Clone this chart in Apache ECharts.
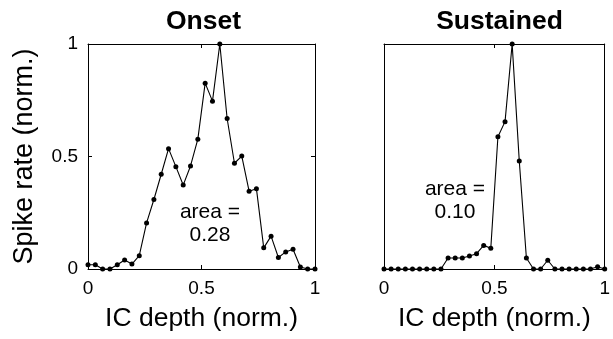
<!DOCTYPE html>
<html>
<head>
<meta charset="utf-8">
<script src="https://cdn.jsdelivr.net/npm/echarts@6/dist/echarts.min.js"></script>
<style>
  html, body { margin: 0; padding: 0; background: #fff; }
  #chart { width: 613px; height: 339px; }
</style>
</head>
<body>
<div id="chart"></div>
<script>
// Normalised spike rate per depth bin (32 evenly spaced bins across the IC)
const binCount = 32;
const onsetRate = [
  0.019, 0.019, 0.000, 0.000, 0.019, 0.040, 0.022, 0.059,
  0.205, 0.309, 0.421, 0.535, 0.455, 0.373, 0.458, 0.577,
  0.826, 0.746, 1.000, 0.669, 0.470, 0.502, 0.346, 0.357,
  0.094, 0.146, 0.051, 0.076, 0.088, 0.009, 0.000, 0.000
];
const sustainedRate = [
  0.000, 0.000, 0.000, 0.000, 0.000, 0.000, 0.000, 0.000,
  0.000, 0.049, 0.049, 0.049, 0.058, 0.068, 0.105, 0.092,
  0.588, 0.655, 1.000, 0.480, 0.049, 0.000, 0.000, 0.039,
  0.000, 0.000, 0.000, 0.000, 0.000, 0.000, 0.010, 0.000
];
const panelTitles = ['Onset', 'Sustained'];
const areaLabels = ['area =\n0.28', 'area =\n0.10'];

// bin centres along normalised depth
const depth = onsetRate.map((_, i) => i / (binCount - 1));
const toPairs = vals => vals.map((v, i) => [depth[i], v]);

const font = 'Liberation Sans, Arial, Helvetica, sans-serif';
const black = '#000';

function tickLabel(v) {
  return String(v);
}

const grids = [
  { left: 88, top: 44, width: 227, height: 225 },
  { left: 384, top: 44, width: 227, height: 225 }
];

const xAxes = [];
const yAxes = [];
grids.forEach((g, k) => {
  // bottom axis with labels
  xAxes.push({
    type: 'value', gridIndex: k, position: 'bottom', min: 0, max: 1, interval: 0.5,
    name: 'IC depth (norm.)', nameLocation: 'middle', nameGap: 36,
    nameTextStyle: { fontFamily: font, fontSize: 26.5, color: black },
    axisLine: { show: true, onZero: false, lineStyle: { color: black, width: 1 } },
    axisTick: { show: true, inside: true, length: 4, lineStyle: { color: black } },
    axisLabel: { show: true, margin: 10, fontFamily: font, fontSize: 19, color: black, formatter: tickLabel },
    splitLine: { show: false }
  });
  // top edge of the box
  xAxes.push({
    type: 'value', gridIndex: k, position: 'top', min: 0, max: 1, interval: 0.5,
    axisLine: { show: true, onZero: false, lineStyle: { color: black, width: 1 } },
    axisTick: { show: true, inside: true, length: 4, lineStyle: { color: black } },
    axisLabel: { show: false }, splitLine: { show: false }
  });
  const showY = k === 0;
  yAxes.push({
    type: 'value', gridIndex: k, position: 'left', min: 0, max: 1, interval: 0.5,
    name: showY ? 'Spike rate (norm.)' : '', nameLocation: 'middle', nameGap: 50,
    nameTextStyle: { fontFamily: font, fontSize: 27, color: black },
    axisLine: { show: true, onZero: false, lineStyle: { color: black, width: 1 } },
    axisTick: { show: showY, inside: true, length: 4, lineStyle: { color: black } },
    axisLabel: { show: showY, margin: 10, fontFamily: font, fontSize: 19, color: black, formatter: tickLabel },
    splitLine: { show: false }
  });
  // right edge of the box
  yAxes.push({
    type: 'value', gridIndex: k, position: 'right', min: 0, max: 1, interval: 0.5,
    axisLine: { show: true, onZero: false, lineStyle: { color: black, width: 1 } },
    axisTick: { show: showY, inside: true, length: 4, lineStyle: { color: black } },
    axisLabel: { show: false }, splitLine: { show: false }
  });
});

const seriesData = [onsetRate, sustainedRate];
const series = seriesData.map((vals, k) => ({
  type: 'line',
  xAxisIndex: k * 2,
  yAxisIndex: k * 2,
  data: toPairs(vals),
  symbol: 'circle',
  symbolSize: 5,
  showSymbol: true,
  lineStyle: { color: black, width: 1.1 },
  itemStyle: { color: black },
  animation: false,
  z: 3
}));

const chart = echarts.init(document.getElementById('chart'), null, { renderer: 'canvas' });
chart.setOption({
  backgroundColor: '#fff',
  animation: false,
  title: panelTitles.map((t, k) => ({
    text: t,
    left: grids[k].left + grids[k].width / 2 - 3,
    top: 3,
    textAlign: 'center',
    textStyle: { fontFamily: font, fontSize: 26.5, fontWeight: 'bold', color: black }
  })),
  grid: grids,
  xAxis: xAxes,
  yAxis: yAxes,
  series: series,
  graphic: [
    { type: 'text', x: 210, y: 224, z: 10, style: { text: areaLabels[0], fontFamily: font, fontSize: 21, lineHeight: 23, fill: black, align: 'center', verticalAlign: 'middle' } },
    { type: 'text', x: 455, y: 201, z: 10, style: { text: areaLabels[1], fontFamily: font, fontSize: 21, lineHeight: 23, fill: black, align: 'center', verticalAlign: 'middle' } }
  ]
});
</script>
</body>
</html>
